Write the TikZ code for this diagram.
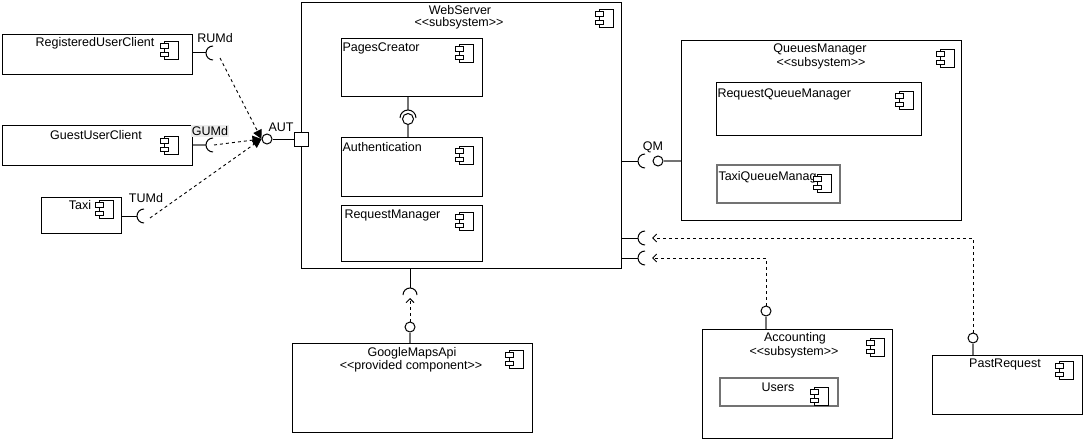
\documentclass[tikz,border=0pt]{standalone}
\usepackage{fontspec}
\setmainfont{Liberation Sans}
\usetikzlibrary{arrows.meta}
\newcommand\stereo[1]{<\kern0pt<#1>\kern0pt>}
\begin{document}
\begin{tikzpicture}[x=1pt,y=-1pt,line width=1pt,
  box/.style={draw,line width=1pt,inner sep=0pt,anchor=north west},
  gbox/.style={box,draw=black!55,line width=1.6pt},
  txt/.style={inner sep=0pt,font=\fontsize{12.5}{14}\selectfont,text=black},
  ltxt/.style={txt,anchor=west},
  lolly/.style={draw,circle,fill=white,minimum size=10pt,inner sep=0pt,line width=1pt},
  gline/.style={draw=black!55,line width=1.5pt},
  dep/.style={dash pattern=on 3pt off 3pt,line width=0.9pt},
  deparrow/.style={dep,-{Triangle[length=9pt,width=9pt]}},
  openarrow/.style={dep,-{Straight Barb[length=4pt,width=8pt,line width=0.9pt]}},
  compicon/.pic={
    \draw[line width=0.9pt,fill=white] (-7,-9) rectangle (7,9);
    \draw[line width=0.9pt,fill=white] (-11,-6.5) rectangle (-3,-2);
    \draw[line width=0.9pt,fill=white] (-11,2) rectangle (-3,6.5);
  }]
\useasboundingbox (0,0) rectangle (1083,441);

% ---------- left clients ----------
\node[box,minimum width=190,minimum height=40] (ruc) at (2,34) {};
\node[txt] at (95,43) {RegisteredUserClient};
\pic at (171,50) {compicon};

\node[box,minimum width=190,minimum height=40] (guc) at (2,125) {};
\node[txt] at (96,135) {GuestUserClient};
\pic at (171,145) {compicon};

\node[box,minimum width=80,minimum height=36] (taxi) at (41,197) {};
\node[txt] at (80,205) {Taxi};
\pic at (106,209) {compicon};

% sockets of clients
\coordinate (rumd) at (206,53);
\coordinate (gumd) at (206,145);
\coordinate (tumd) at (137,216);
\draw (ruc.east |- rumd) -- (rumd);
\draw ([shift={(7,7)}]rumd) arc (90:270:7);
\draw[gline] (guc.east |- gumd) -- (gumd);
\draw ([shift={(7,7)}]gumd) arc (90:270:7);
\draw (taxi.east |- tumd) -- (tumd);
\draw ([shift={(7,7)}]tumd) arc (90:270:7);
\node[txt] at (215,38) {RUMd};
\node[txt,fill=black!8,inner sep=1pt] at (210,131) {GUMd};
\node[txt] at (146,198) {TUMd};

% ---------- WebServer ----------
\node[box,minimum width=320,minimum height=266] (ws) at (301,2) {};
\node[txt] at (460,10) {WebServer};
\node[txt] at (459,23) {\stereo{subsystem}};
\pic at (606,18) {compicon};

\node[box,minimum width=141,minimum height=58] (pc) at (341,38) {};
\node[ltxt] at (342,48) {PagesCreator};
\pic at (466,53) {compicon};

\node[box,minimum width=141,minimum height=59] (auth) at (341,137) {};
\node[ltxt] at (342,147) {Authentication};
\pic at (466,155) {compicon};

\node[box,minimum width=141,minimum height=56] (rm) at (341,205) {};
\node[ltxt] at (344,215) {RequestManager};
\pic at (466,221) {compicon};

% PagesCreator - Authentication interface
\coordinate (pcs) at (408,110);
\node[lolly,minimum size=11pt] (pci) at (408,119) {};
\draw[gline] (pc.south -| pcs) -- (pcs);
\draw[line width=1pt] ([shift={(-8,8)}]pcs) arc (180:360:8);
\draw[gline] (pci) -- (auth.north -| pci);

% AUT port
\node[draw,fill=white,minimum size=14pt,inner sep=0pt] (port) at (301,139) {};
\node[lolly] (aut) at (267,139) {};
\draw (aut) -- (port);
\node[txt] at (281,127) {AUT};
\coordinate (rumdS) at (220,58);
\coordinate (gumdS) at (214,145);
\coordinate (tumdS) at (150,218);
\draw[deparrow] (rumdS) -- (aut.west);
\draw[deparrow] (gumdS) -- (aut.west);
\draw[deparrow] (tumdS) -- (aut.west);

% ---------- QueuesManager ----------
\node[box,minimum width=280,minimum height=180] (qm) at (681,40) {};
\node[txt] at (820,49) {QueuesManager};
\node[txt] at (821,63) {\stereo{subsystem}};
\pic at (947,58) {compicon};

\node[box,minimum width=205,minimum height=53] (rqm) at (716,82) {};
\node[ltxt] at (717,94) {RequestQueueManager};
\pic at (906,100) {compicon};

\node[gbox,minimum width=123,minimum height=38] (tqm) at (716,164) {};
\node[ltxt] at (718,177) {TaxiQueueManag};
\pic at (824,183) {compicon};

% QM interface
\coordinate (qms) at (638,161);
\draw (ws.east |- qms) -- (qms);
\draw ([shift={(7,7)}]qms) arc (90:270:7);
\node[lolly] (qmi) at (658,161) {};
\draw[gline] (qmi) -- (qm.west |- qmi);
\node[txt] at (653,147) {QM};

% ---------- Accounting ----------
\node[box,minimum width=190,minimum height=109] (acc) at (702,329) {};
\node[txt] at (795,338) {Accounting};
\node[txt] at (794,352) {\stereo{subsystem}};
\pic at (877,347) {compicon};

\node[gbox,minimum width=118,minimum height=28] (users) at (719,377) {};
\node[txt] at (778,387) {Users};
\pic at (821,396) {compicon};

\node[lolly] (acci) at (766,311) {};
\draw[gline] (acci) -- (acc.north -| acci);

% ---------- PastRequest ----------
\node[box,minimum width=150,minimum height=59] (pr) at (932,355) {};
\node[txt] at (1005,364) {PastRequest};
\pic at (1066,370) {compicon};

\node[lolly] (pri) at (973,338) {};
\draw[gline] (pri) -- (pr.north -| pri);

% sockets on WebServer right
\coordinate (prs) at (638,238);
\coordinate (accs) at (638,258);
\draw (ws.east |- prs) -- (prs);
\draw ([shift={(7,7)}]prs) arc (90:270:7);
\draw (ws.east |- accs) -- (accs);
\draw ([shift={(7,7)}]accs) arc (90:270:7);
\coordinate (prT) at (652,238);
\coordinate (accT) at (652,258);
\draw[openarrow] (pri.north) |- (prT);
\draw[openarrow] (acci.north) |- (accT);

% ---------- GoogleMapsApi ----------
\node[box,minimum width=240,minimum height=89] (gm) at (292,343) {};
\node[txt] at (412,353) {GoogleMapsApi};
\node[txt] at (411,366) {\stereo{provided component}};
\pic at (516,359) {compicon};

\coordinate (gms) at (410,288);
\draw (ws.south -| gms) -- (gms);
\draw ([shift={(-7,7)}]gms) arc (180:360:7);
\node[lolly] (gmi) at (410,327) {};
\draw[gline] (gmi) -- (gm.north -| gmi);
\coordinate (gmT) at (410,298);
\draw[openarrow] (gmi.north) -- (gmT);
\end{tikzpicture}
\end{document}
